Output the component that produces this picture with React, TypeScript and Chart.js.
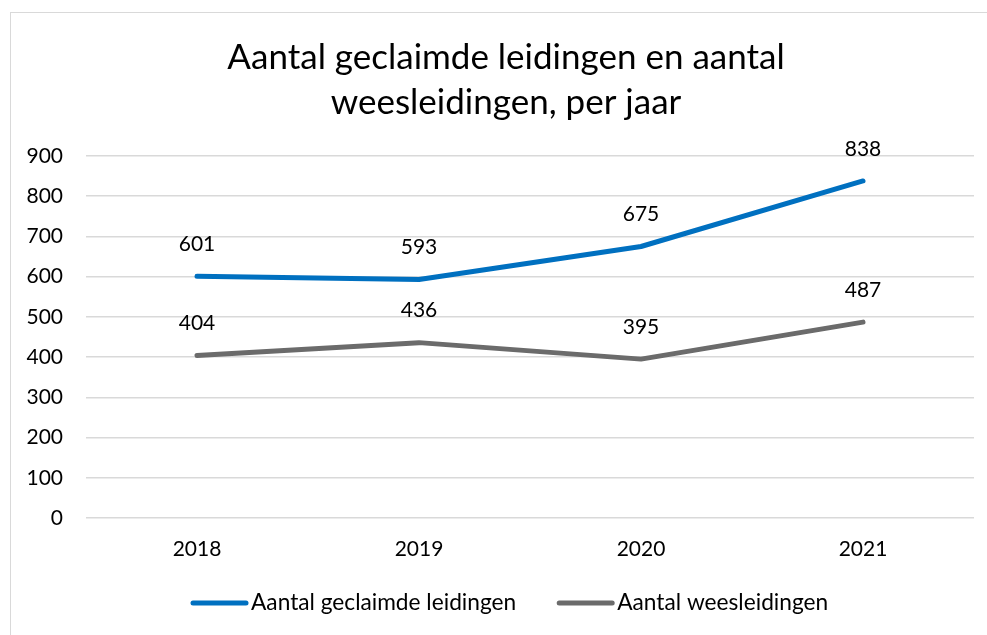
import React, { useEffect, useRef } from "react";
import { Chart, registerables } from "chart.js";

Chart.register(...registerables);

const categories = ["2018", "2019", "2020", "2021"];
const claimed = [601, 593, 675, 838];
const orphan = [404, 436, 395, 487];
const seriesNames = ["Aantal geclaimde leidingen", "Aantal weesleidingen"];
const titleLines = ["Aantal geclaimde leidingen en aantal", "weesleidingen, per jaar"];
const yTicks = { min: 0, max: 900, step: 100 };

const FONT = "Lato, 'Open Sans', sans-serif";
const BLUE = "#0070C0";
const GRAY = "#6B6B6B";

const W = 987;
const H = 635;

const titlePlugin = {
  id: "customTitle",
  afterDraw(chart: any) {
    const ctx = chart.ctx;
    ctx.save();
    ctx.fillStyle = "#000";
    ctx.font = `35px ${FONT}`;
    ctx.textAlign = "center";
    ctx.textBaseline = "middle";
    titleLines.forEach((t, i) => ctx.fillText(t, 506, 58 + i * 45));
    ctx.restore();
  },
};

const labelPlugin = {
  id: "pointLabels",
  afterDatasetsDraw(chart: any) {
    const ctx = chart.ctx;
    ctx.save();
    ctx.fillStyle = "#000";
    ctx.font = `21px ${FONT}`;
    ctx.textAlign = "center";
    ctx.textBaseline = "middle";
    chart.data.datasets.forEach((ds: any, di: number) => {
      const meta = chart.getDatasetMeta(di);
      meta.data.forEach((pt: any, i: number) => {
        ctx.fillText(String(ds.data[i]), pt.x, pt.y - 32);
      });
    });
    ctx.restore();
  },
};

const legendPlugin = {
  id: "customLegend",
  afterDraw(chart: any) {
    const ctx = chart.ctx;
    ctx.save();
    ctx.font = `22.7px ${FONT}`;
    ctx.textBaseline = "middle";
    let x = 193;
    const y = 603;
    chart.data.datasets.forEach((ds: any) => {
      ctx.strokeStyle = ds.borderColor;
      ctx.lineWidth = 5;
      ctx.lineCap = "round";
      ctx.beginPath();
      ctx.moveTo(x, y);
      ctx.lineTo(x + 53, y);
      ctx.stroke();
      ctx.fillStyle = "#000";
      ctx.textAlign = "left";
      ctx.fillText(ds.label, x + 58, y);
      x += 58 + ctx.measureText(ds.label).width + 43;
    });
    ctx.restore();
  },
};

export default function App() {
  const ref = useRef<HTMLCanvasElement>(null);
  useEffect(() => {
    document.body.style.margin = "0";
    document.body.style.overflow = "hidden";
    const chart = new Chart(ref.current!, {
      type: "line",
      data: {
        labels: categories,
        datasets: [
          {
            label: seriesNames[0],
            data: claimed,
            borderColor: BLUE,
            backgroundColor: BLUE,
            borderWidth: 5,
            pointRadius: 0,
            borderCapStyle: "round",
            borderJoinStyle: "round",
            tension: 0,
          },
          {
            label: seriesNames[1],
            data: orphan,
            borderColor: GRAY,
            backgroundColor: GRAY,
            borderWidth: 5,
            pointRadius: 0,
            borderCapStyle: "round",
            borderJoinStyle: "round",
            tension: 0,
          },
        ],
      },
      options: {
        responsive: false,
        animation: false,
        layout: { padding: { top: 156, left: 0, right: W - 974, bottom: 0 } },
        plugins: {
          legend: { display: false },
          title: { display: false },
          tooltip: { enabled: false },
        },
        scales: {
          x: {
            offset: true,
            grid: { display: false, drawTicks: false },
            border: { display: false },
            ticks: { color: "#000", font: { family: FONT, size: 21 }, padding: 19 },
            afterFit(scale: any) {
              scale.height = H - 518;
            },
          },
          y: {
            min: yTicks.min,
            max: yTicks.max,
            grid: { color: "#D9D9D9", lineWidth: 1.5, drawTicks: false },
            border: { display: false },
            ticks: {
              stepSize: yTicks.step,
              color: "#000",
              font: { family: FONT, size: 21 },
              padding: 23,
            },
            afterFit(scale: any) {
              scale.width = 86;
            },
          },
        },
      },
      plugins: [titlePlugin, labelPlugin, legendPlugin],
    });
    return () => chart.destroy();
  }, []);
  return (
    <div style={{ position: "relative", width: W, height: H, background: "#fff" }}>
      <div
        style={{
          position: "absolute",
          left: 10,
          top: 12,
          width: W,
          height: H,
          borderTop: "1.5px solid #D9D9D9",
          borderLeft: "1.5px solid #D9D9D9",
        }}
      />
      <canvas ref={ref} width={W} height={H} style={{ position: "absolute", left: 0, top: 0 }} />
    </div>
  );
}
